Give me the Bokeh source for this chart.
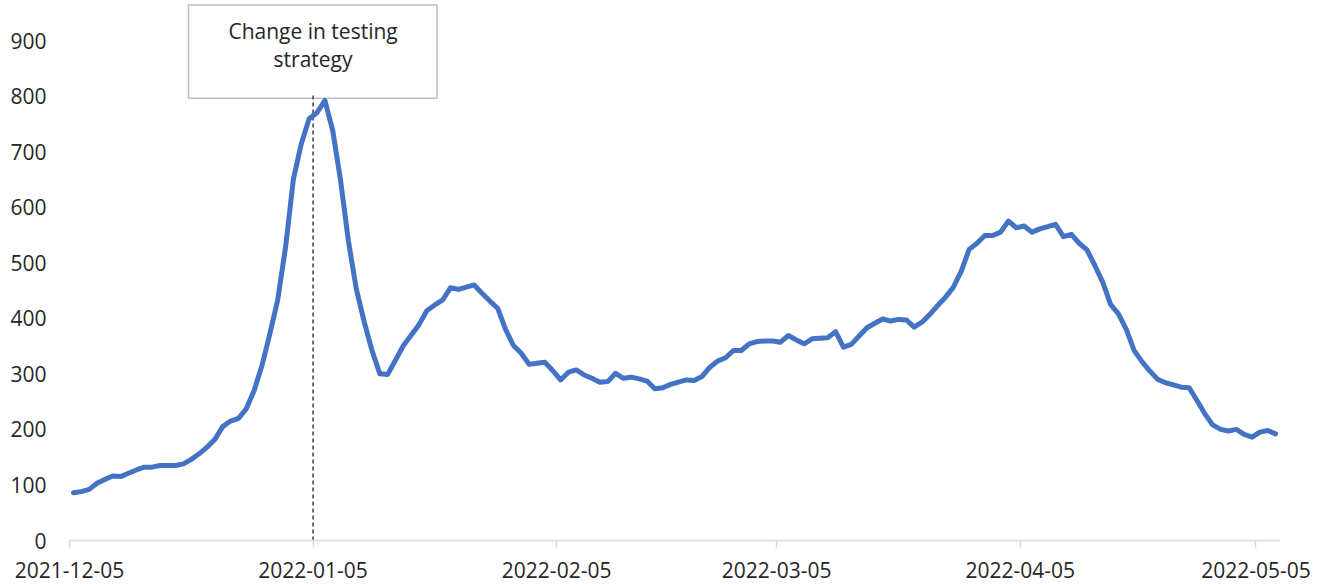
from datetime import datetime, timedelta
import pandas as pd
from bokeh.plotting import figure
from bokeh.models import Range1d, FixedTicker, DatetimeTickFormatter, ColumnDataSource
from bokeh.core.properties import value
from bokeh.embed import file_html
from bokeh.resources import INLINE

# ---- data ----
start_date = "2021-12-05"
cases = [
    86, 88, 92, 103, 110, 116, 115, 121, 127, 132,
    132, 135, 135, 135, 138, 146, 156, 168, 182, 205,
    215, 220, 237, 270, 315, 372, 433, 528, 651, 714,
    759, 770, 792, 738, 648, 539, 453, 394, 342, 300,
    299, 325, 351, 370, 389, 414, 424, 433, 455, 452,
    456, 460, 445, 431, 418, 380, 351, 337, 317, 319,
    321, 306, 289, 303, 307, 298, 292, 285, 286, 301,
    292, 294, 291, 287, 273, 275, 281, 285, 289, 288,
    295, 312, 323, 329, 342, 342, 354, 358, 359, 359,
    357, 369, 361, 354, 363, 364, 365, 376, 348, 353,
    368, 383, 391, 399, 395, 398, 397, 384, 393, 407,
    423, 438, 456, 485, 524, 535, 549, 549, 555, 575,
    563, 566, 555, 561, 565, 569, 547, 551, 535, 523,
    495, 465, 425, 408, 380, 342, 322, 305, 290, 284,
    280, 276, 275, 252, 228, 208, 200, 197, 200, 191,
    186, 195, 198, 192,
]
x_tick_labels = ["2021-12-05", "2022-01-05", "2022-02-05", "2022-03-05", "2022-04-05", "2022-05-05"]
y_ticks = [0, 100, 200, 300, 400, 500, 600, 700, 800, 900]
annotation_date = "2022-01-05"
annotation_lines = ["Change in testing", "strategy"]

# dates: each daily value is centred in its day slot
dates = pd.date_range(start_date, periods=len(cases), freq="D") + pd.Timedelta(hours=12)
src = ColumnDataSource(dict(date=dates, cases=cases))

t0 = pd.Timestamp(start_date)
t_end = t0 + pd.Timedelta(days=154)
y_top = 972

FONT = "Open Sans"
TXT = "#262626"

p = figure(width=1333, height=584, x_axis_type="datetime",
           x_range=Range1d(t0, t_end), y_range=Range1d(0, y_top),
           output_backend="svg", toolbar_location=None,
           min_border_left=69, min_border_right=54, min_border_top=0, min_border_bottom=44)
p.outline_line_color = None
p.xgrid.visible = False
p.ygrid.visible = False
p.background_fill_color = "white"
p.border_fill_color = "white"

# annotation box
ann = pd.Timestamp(annotation_date)
p.quad(left=[t0 + pd.Timedelta(days=15.15)], right=[t0 + pd.Timedelta(days=46.76)],
       bottom=[796], top=[964], fill_color="white", line_color="#bfbfbf", line_width=1.5)
p.segment(x0=[ann], x1=[ann], y0=[0], y1=[806], line_color="#404040",
          line_width=1.5, line_dash="4 3")
p.text(x=[ann, ann], y=[918, 866], text=annotation_lines, text_align="center",
       text_baseline="middle", text_font=value(FONT), text_font_size="21px", text_color=TXT)

p.line("date", "cases", source=src, line_color="#4472C4", line_width=5, line_join="round",
       line_cap="round")

# x axis
xax = p.xaxis[0]
xax.ticker = FixedTicker(ticks=[pd.Timestamp(s).value / 1e6 for s in x_tick_labels])
xax.formatter = DatetimeTickFormatter(days="%Y-%m-%d", months="%Y-%m-%d", years="%Y-%m-%d",
                                      hours="%Y-%m-%d", minutes="%Y-%m-%d", seconds="%Y-%m-%d",
                                      milliseconds="%Y-%m-%d", microseconds="%Y-%m-%d",
                                      minsec="%Y-%m-%d", hourmin="%Y-%m-%d")
xax.axis_line_color = "#d9d9d9"
xax.axis_line_width = 1.5
xax.major_tick_line_color = "#d9d9d9"
xax.major_tick_line_width = 1.5
xax.major_tick_out = 7
xax.major_tick_in = 0
xax.minor_tick_line_color = None
xax.major_label_standoff = 14
xax.major_label_text_font = FONT
xax.major_label_text_font_size = "21px"
xax.major_label_text_color = TXT

# y axis
yax = p.yaxis[0]
yax.ticker = FixedTicker(ticks=y_ticks)
yax.axis_line_color = None
yax.major_tick_line_color = None
yax.minor_tick_line_color = None
yax.major_tick_out = 0
yax.major_tick_in = 0
yax.major_label_standoff = 23
yax.major_label_text_font = FONT
yax.major_label_text_font_size = "21px"
yax.major_label_text_color = TXT

open("out.html", "w").write(file_html(p, INLINE))
